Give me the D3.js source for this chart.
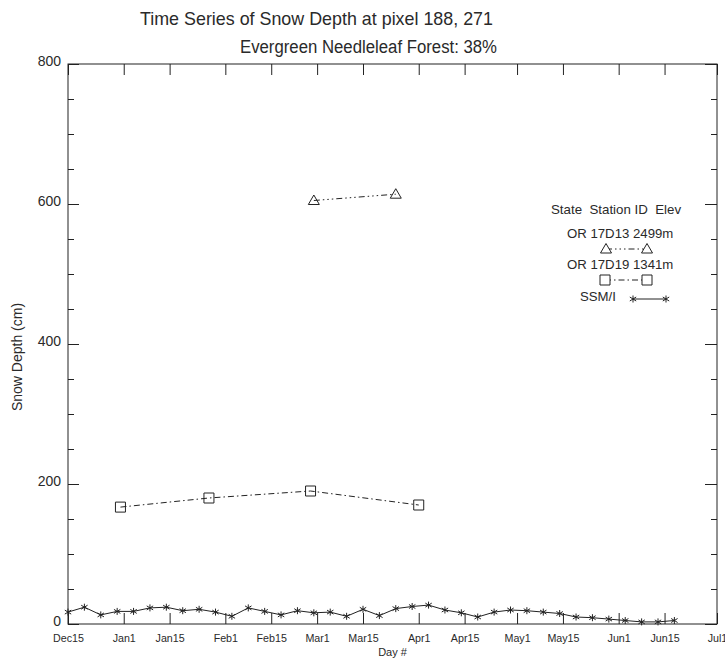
<!DOCTYPE html>
<html>
<head>
<meta charset="utf-8">
<script src="https://cdn.jsdelivr.net/npm/d3@7"></script>
<style>
  body { margin: 0; background: #fff; }
  text { font-family: "Liberation Sans", Arial, sans-serif; fill: #2a2a2a; }
</style>
</head>
<body>
<svg id="chart" width="725" height="659"></svg>
<script>
// Day # counted from Dec 15
const tickDays   = [0, 17, 31, 48, 62, 76, 90, 107, 121, 137, 151, 168, 182, 198];
const tickLabels = ["Dec15", "Jan1", "Jan15", "Feb1", "Feb15", "Mar1", "Mar15",
                    "Apr1", "Apr15", "May1", "May15", "Jun1", "Jun15", "Jul1"];
const yMajor = [0, 200, 400, 600, 800];
const yMinor = [50, 100, 150, 250, 300, 350, 450, 500, 550, 650, 700, 750];

// SSM/I retrieved snow depth (cm)
const ssmiDays  = [0, 5, 10, 15, 20, 25, 30, 35, 40, 45, 50, 55, 60, 65, 70, 75, 80, 85, 90,
                   95, 100, 105, 110, 115, 120, 125, 130, 135, 140, 145, 150, 155, 160, 165, 170, 175, 180, 185];
const ssmiDepth = [17, 24, 13, 18, 18, 23, 24, 19, 21, 17, 11, 23, 18, 13, 19, 16, 17, 11, 21,
                   12, 22, 25, 27, 20, 16, 10, 17, 20, 19, 17, 15, 10, 9, 7, 5, 3, 3, 5];

// Ground station 17D13 (OR, 2499 m)
const st17D13Days  = [75, 100];
const st17D13Depth = [605, 614];

// Ground station 17D19 (OR, 1341 m)
const st17D19Days  = [16, 43, 74, 107];
const st17D19Depth = [167, 180, 190, 170];

const svg = d3.select("#chart");
const plotL = 68, plotR = 717, plotT = 64, plotB = 624;
const ink = "#222";
const font = "'Liberation Sans', Arial, sans-serif";

const x = d3.scaleLinear().domain([0, 198]).range([plotL, plotR]);
const y = d3.scaleLinear().domain([0, 800]).range([plotB, plotT]);

// Titles
svg.append("text").attr("x", 140).attr("y", 25)
  .attr("font-size", 19).attr("textLength", 353).attr("lengthAdjust", "spacingAndGlyphs")
  .text("Time Series of Snow Depth at pixel 188, 271");
svg.append("text").attr("x", 240).attr("y", 53)
  .attr("font-size", 18).attr("textLength", 257).attr("lengthAdjust", "spacingAndGlyphs")
  .text("Evergreen Needleleaf Forest: 38%");

// Frame
svg.append("rect").attr("x", plotL).attr("y", plotT)
  .attr("width", plotR - plotL).attr("height", plotB - plotT)
  .attr("fill", "none").attr("stroke", ink).attr("stroke-width", 1);

function styleAxis(g) {
  g.select(".domain").remove();
  g.selectAll(".tick line").attr("stroke", ink);
}

// Bottom axis with labels
const gx = svg.append("g").attr("transform", `translate(0,${plotB})`)
  .call(d3.axisBottom(x).tickValues(tickDays)
    .tickFormat((d, i) => tickLabels[i]).tickSizeInner(-11).tickSizeOuter(0).tickPadding(10));
styleAxis(gx);
gx.selectAll("text").attr("font-size", 10.7).attr("fill", "#2a2a2a").attr("font-family", font);

// Top axis ticks
const gxt = svg.append("g").attr("transform", `translate(0,${plotT})`)
  .call(d3.axisTop(x).tickValues(tickDays).tickFormat("").tickSizeInner(-11).tickSizeOuter(0));
styleAxis(gxt);

// Left axis: major with labels, minor without
const gy = svg.append("g").attr("transform", `translate(${plotL},0)`)
  .call(d3.axisLeft(y).tickValues(yMajor).tickFormat(d3.format("d"))
    .tickSizeInner(-11).tickSizeOuter(0).tickPadding(7));
styleAxis(gy);
gy.selectAll("text").attr("font-size", 14).attr("dy", "0.1em").attr("fill", "#2a2a2a")
  .attr("font-family", font);
const gym = svg.append("g").attr("transform", `translate(${plotL},0)`)
  .call(d3.axisLeft(y).tickValues(yMinor).tickFormat("").tickSizeInner(-6).tickSizeOuter(0));
styleAxis(gym);

// Right axis ticks
const gyr = svg.append("g").attr("transform", `translate(${plotR},0)`)
  .call(d3.axisRight(y).tickValues(yMajor).tickFormat("").tickSizeInner(-12).tickSizeOuter(0));
styleAxis(gyr);
const gyrm = svg.append("g").attr("transform", `translate(${plotR},0)`)
  .call(d3.axisRight(y).tickValues(yMinor).tickFormat("").tickSizeInner(-6).tickSizeOuter(0));
styleAxis(gyrm);

// Axis titles
svg.append("text").attr("x", x(99)).attr("y", 656).attr("text-anchor", "middle")
  .attr("font-size", 11).text("Day #");
svg.append("text").attr("transform", `translate(22,${(plotT + plotB) / 2 + 13}) rotate(-90)`)
  .attr("text-anchor", "middle").attr("font-size", 14).text("Snow Depth (cm)");

// Marker shapes
const triPath = "M0,-5.5L5.5,4L-5.5,4Z";
const sqPath = "M-5,-5H5V5H-5Z";
const starPath = "M0,-3.5V3.5M-3.2,-2L3.2,2M-3.2,2L3.2,-2";

const dashDot = "6,3,1.5,3";
const dashDot3 = "6,3,1.5,3,1.5,3,1.5,3";

function drawSeries(days, depth, dash, marker) {
  const pts = days.map((d, i) => [x(d), y(depth[i])]);
  svg.append("path").attr("d", d3.line()(pts))
    .attr("fill", "none").attr("stroke", ink).attr("stroke-width", 1)
    .attr("stroke-dasharray", dash);
  svg.append("g").selectAll("path").data(pts).join("path")
    .attr("transform", p => `translate(${p[0]},${p[1]})`)
    .attr("d", marker).attr("fill", "none").attr("stroke", ink).attr("stroke-width", 1);
}

drawSeries(ssmiDays, ssmiDepth, null, starPath);
drawSeries(st17D19Days, st17D19Depth, dashDot, sqPath);
drawSeries(st17D13Days, st17D13Depth, dashDot3, triPath);

// Legend
const legendHeader = "State  Station ID  Elev";
const legendEntries = [
  { label: "OR 17D13 2499m", dash: dashDot3, marker: triPath },
  { label: "OR 17D19 1341m", dash: dashDot, marker: sqPath },
  { label: "SSM/I", dash: null, marker: starPath }
];
const lg = svg.append("g");
lg.append("text").attr("x", 551).attr("y", 214).attr("font-size", 13.3)
  .attr("xml:space", "preserve").text(legendHeader);

const legendText = [[567, 238], [567, 269], [580, 301]];
const legendLine = [[606, 647, 249], [605, 647, 280], [633, 666, 299]];
legendEntries.forEach((e, i) => {
  lg.append("text").attr("x", legendText[i][0]).attr("y", legendText[i][1])
    .attr("font-size", 13.2).text(e.label);
  const [x0, x1, yy] = legendLine[i];
  lg.append("line").attr("x1", x0).attr("x2", x1).attr("y1", yy).attr("y2", yy)
    .attr("stroke", ink).attr("stroke-dasharray", e.dash);
  [x0, x1].forEach(px => lg.append("path").attr("transform", `translate(${px},${yy})`)
    .attr("d", e.marker).attr("fill", e.marker === starPath ? "none" : "#fff")
    .attr("stroke", ink));
});
</script>
</body>
</html>
